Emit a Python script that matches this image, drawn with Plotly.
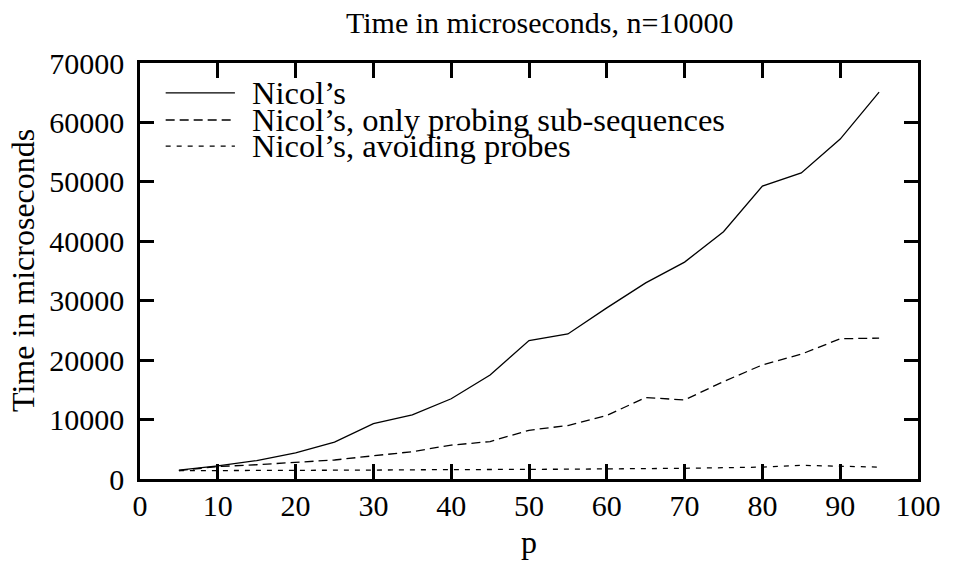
import plotly.graph_objects as go

p = [5, 10, 15, 20, 25, 30, 35, 40, 45, 50, 55, 60, 65, 70, 75, 80, 85, 90, 95]
nicol = [1500, 2200, 3100, 4400, 6200, 9300, 10800, 13500, 17500, 23300, 24400,
         28800, 33000, 36500, 41600, 49300, 51500, 57200, 65100]
nicol_subseq = [1400, 2100, 2400, 2800, 3200, 3900, 4600, 5700, 6300, 8200, 9000,
                10700, 13700, 13300, 16400, 19200, 21000, 23600, 23700]
nicol_avoid = [1400, 1400, 1450, 1450, 1500, 1500, 1550, 1550, 1600, 1650, 1650,
               1700, 1700, 1800, 1900, 2000, 2300, 2100, 2000]

names = ["Nicol\u2019s", "Nicol\u2019s, only probing sub-sequences", "Nicol\u2019s, avoiding probes"]
series = [nicol, nicol_subseq, nicol_avoid]
dashes = ["solid", "9px,5px", "5px,6px"]

FONT = "Liberation Serif"

fig = go.Figure()
for name, ys, d in zip(names, series, dashes):
    fig.add_trace(go.Scatter(x=p, y=ys, mode="lines", name=name,
                             line=dict(color="black", width=1.3, dash=d),
                             showlegend=False))

# manual key (gnuplot style)
rows = [0.928, 0.863, 0.800]
for name, d, ry in zip(names, dashes, rows):
    fig.add_shape(type="line", xref="paper", yref="paper", x0=0.033, x1=0.122,
                  y0=ry, y1=ry, line=dict(color="black", width=1.3, dash=d))
    fig.add_annotation(xref="paper", yref="paper", x=0.141, y=ry, text=name,
                       showarrow=False, xanchor="left", yanchor="middle",
                       font=dict(family=FONT, size=32.5, color="black"))

fig.add_annotation(xref="paper", yref="paper", x=0.514, y=1.0, yshift=41,
                   text="Time in microseconds, n=10000", showarrow=False,
                   xanchor="center", yanchor="middle",
                   font=dict(family=FONT, size=30, color="black"))
fig.add_annotation(xref="paper", yref="paper", x=0.0, xshift=-117, y=0.5,
                   text="Time in microseconds", showarrow=False, textangle=-90,
                   xanchor="center", yanchor="middle",
                   font=dict(family=FONT, size=32, color="black"))
fig.add_annotation(xref="paper", yref="paper", x=0.5, y=0.0, yshift=-63,
                   text="p", showarrow=False, xanchor="center", yanchor="middle",
                   font=dict(family=FONT, size=32, color="black"))

axis_common = dict(showgrid=False, zeroline=False, showline=True, linecolor="black",
                   linewidth=2.5, mirror="ticks", ticks="inside", tickcolor="black",
                   tickwidth=2.5, tickfont=dict(family=FONT, size=30, color="black"))

fig.update_xaxes(range=[0, 100], dtick=10, tick0=0, ticklen=15,
                 ticklabelstandoff=-2, **axis_common)
fig.update_yaxes(range=[0, 70000], dtick=10000, tick0=0, ticklen=14,
                 ticklabelstandoff=7, tickformat="d", **axis_common)

fig.update_layout(width=953, height=565, margin=dict(l=140, r=27, t=63, b=86),
                  paper_bgcolor="white", plot_bgcolor="white")

fig.write_html("out.html")
